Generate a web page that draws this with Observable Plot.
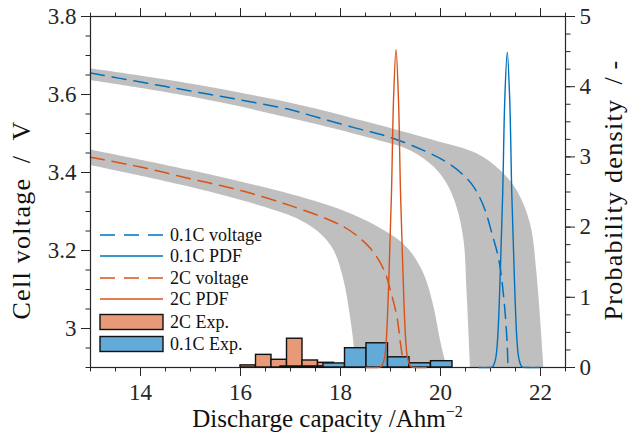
<!DOCTYPE html>
<html>
<head>
<meta charset="utf-8">
<script src="https://cdn.jsdelivr.net/npm/d3@7"></script>
<script src="https://cdn.jsdelivr.net/npm/@observablehq/plot@0.6"></script>
<style>
  body { margin: 0; background: #fff; }
  #wrap { position: relative; width: 630px; height: 437px; font-family: "Liberation Serif", serif; color: #000; }
  #wrap > svg { position: absolute; left: 0; top: 0; }
  .ttl { position: absolute; font-family: "Liberation Serif", serif; font-size: 25px; white-space: nowrap; line-height: 1; color: #111; }
  .ttl.y { font-size: 26px; letter-spacing: 1.3px; }
</style>
</head>
<body>
<div id="wrap"></div>
<script>
// ---------- tick labels ----------
const capMajor = [14, 16, 18, 20, 22];
const voltMajor = [3, 3.2, 3.4, 3.6, 3.8];
const densMajor = [0, 1, 2, 3, 4, 5];
const capMinor = d3.range(13, 22.51, 0.5);
const voltMinor = d3.range(2.9, 3.801, 0.05);
const densMinor = d3.range(0, 5.01, 0.25);

// ---------- 0.1C mean voltage curve ----------
const v01Cap  = [13, 14, 15, 16, 17, 17.33, 18.27, 19.0, 19.67, 20.13, 20.47, 20.67, 20.87, 21.03, 21.17, 21.27, 21.33, 21.35];
const v01Volt = [3.655, 3.632, 3.609, 3.586, 3.561, 3.549, 3.515, 3.49, 3.456, 3.426, 3.392, 3.362, 3.311, 3.243, 3.174, 3.072, 2.969, 2.90];
// 0.1C uncertainty band edges
const b01UpCap   = [13, 15, 17.2, 18.5, 19.87, 20.73, 21.2, 21.53, 21.8, 21.93, 22.07];
const b01UpVolt  = [3.666, 3.627, 3.572, 3.53, 3.482, 3.448, 3.405, 3.354, 3.268, 3.14, 2.9];
const b01LoCap   = [13, 15, 17.2, 18.53, 19.4, 19.87, 20.13, 20.33, 20.47, 20.53, 20.6];
const b01LoVolt  = [3.636, 3.594, 3.533, 3.49, 3.456, 3.414, 3.371, 3.311, 3.226, 3.097, 2.9];

// ---------- 2C mean voltage curve ----------
const v2Cap  = [13, 14, 15, 16, 17, 17.8, 18.2, 18.6, 18.87, 19.0, 19.13, 19.2, 19.27];
const v2Volt = [3.439, 3.414, 3.384, 3.354, 3.315, 3.277, 3.25, 3.205, 3.15, 3.097, 3.029, 2.961, 2.9];
// 2C uncertainty band edges
const b2UpCap  = [13, 15, 17.2, 18.2, 18.87, 19.33, 19.67, 19.87, 20.0, 20.13];
const b2UpVolt = [3.458, 3.405, 3.337, 3.294, 3.251, 3.208, 3.14, 3.055, 2.969, 2.9];
const b2LoCap  = [13, 15, 16.5, 17.2, 17.6, 17.87, 18.07, 18.2, 18.27, 18.3];
const b2LoVolt = [3.418, 3.362, 3.31, 3.277, 3.243, 3.2, 3.123, 3.029, 2.96, 2.9];

// ---------- probability density functions ----------
const pdf01Cap  = [20.77, 20.95, 21.04, 21.10, 21.14, 21.195, 21.245, 21.285, 21.335, 21.385, 21.425, 21.475, 21.53, 21.57, 21.63, 21.75, 21.97];
const pdf01Dens = [0, 0, 0.01, 0.12, 0.38, 1.33, 2.5, 3.8, 4.49, 3.8, 2.5, 1.33, 0.38, 0.12, 0.01, 0, 0];
const pdf2Cap   = [18.51, 18.71, 18.81, 18.875, 18.915, 18.97, 19.02, 19.06, 19.11, 19.16, 19.20, 19.25, 19.305, 19.345, 19.41, 19.51, 19.71];
const pdf2Dens  = [0, 0, 0.01, 0.12, 0.38, 1.33, 2.5, 3.8, 4.53, 3.8, 2.5, 1.33, 0.38, 0.12, 0.01, 0, 0];

// ---------- experimental histograms ----------
const exp2Edges = [16.0, 16.31, 16.62, 16.93, 17.24, 17.55, 17.87];
const exp2Dens  = [0.03, 0.18, 0.11, 0.41, 0.10, 0.067];
const exp01Edges = [16.8, 17.23, 17.66, 18.09, 18.52, 18.95, 19.38, 19.81, 20.24];
const exp01Dens  = [0.015, 0.015, 0.058, 0.275, 0.345, 0.145, 0.06, 0.09];

// ---------- legend ----------
const legendLabels = ["0.1C voltage", "0.1C PDF", "2C voltage", "2C PDF", "2C Exp.", "0.1C Exp."];

// ---------- colours ----------
const blue = "#0072BD", orange = "#D95319";
const blueFill = "#64AAD8", orangeFill = "#E89977";
const bandGray = "#BFBFBF", axisCol = "#262626";

// ---------- build tables ----------
const zip2 = (a, b, ka, kb) => a.map((v, i) => ({[ka]: v, [kb]: b[i]}));
const curve01 = zip2(v01Cap, v01Volt, "cap", "v");
const curve2 = zip2(v2Cap, v2Volt, "cap", "v");
const band01 = b01UpCap.map((c, i) => ({xu: c, vu: b01UpVolt[i], xl: b01LoCap[i], vl: b01LoVolt[i]}));
const band2 = b2UpCap.map((c, i) => ({xu: c, vu: b2UpVolt[i], xl: b2LoCap[i], vl: b2LoVolt[i]}));
const pdf01 = zip2(pdf01Cap, pdf01Dens, "cap", "d");
const pdf2 = zip2(pdf2Cap, pdf2Dens, "cap", "d");
const hist2 = exp2Dens.map((d, i) => ({x1: exp2Edges[i], x2: exp2Edges[i + 1], d}));
const hist01 = exp01Dens.map((d, i) => ({x1: exp01Edges[i], x2: exp01Edges[i + 1], d}));

const W = 630, H = 437;
const dims = {width: W, height: H, marginLeft: 90, marginRight: 65, marginTop: 16, marginBottom: 70};
const style = {fontFamily: "Liberation Serif, serif", fontSize: "23px", background: "transparent", color: axisCol, overflow: "visible"};
const blank = () => "";
const fmt = d => String(d);
const dash = "14,8";

// Layer 1: voltage (left axis, bottom/top capacity axis)
const pV = Plot.plot({
  ...dims, style,
  x: {domain: [13, 22.5]},
  y: {domain: [2.9, 3.8]},
  marks: [
    Plot.area(band01, {x1: "xu", y1: "vu", x2: "xl", y2: "vl", fill: bandGray, curve: "catmull-rom"}),
    Plot.area(band2, {x1: "xu", y1: "vu", x2: "xl", y2: "vl", fill: bandGray, curve: "catmull-rom"}),
    Plot.line(curve01, {x: "cap", y: "v", stroke: blue, strokeWidth: 1.5, strokeDasharray: dash, curve: "catmull-rom"}),
    Plot.line(curve2, {x: "cap", y: "v", stroke: orange, strokeWidth: 1.5, strokeDasharray: dash, curve: "catmull-rom"}),
    Plot.axisX({anchor: "bottom", ticks: capMajor, tickSize: 9, tickPadding: 7, tickFormat: fmt, label: null, stroke: axisCol}),
    Plot.axisX({anchor: "bottom", ticks: capMinor, tickSize: 4.5, tickFormat: blank, label: null, stroke: axisCol}),
    Plot.axisX({anchor: "top", ticks: capMajor, tickSize: 9, tickFormat: blank, label: null, stroke: axisCol}),
    Plot.axisX({anchor: "top", ticks: capMinor, tickSize: 4.5, tickFormat: blank, label: null, stroke: axisCol}),
    Plot.axisY({anchor: "left", ticks: voltMajor, tickSize: 9, tickPadding: 5, tickFormat: fmt, label: null, stroke: axisCol}),
    Plot.axisY({anchor: "left", ticks: voltMinor, tickSize: 4.5, tickFormat: blank, label: null, stroke: axisCol}),
    Plot.frame({stroke: axisCol, strokeWidth: 1.2})
  ]
});

// Layer 2: probability density (right axis)
const pD = Plot.plot({
  ...dims, style,
  x: {domain: [13, 22.5], axis: null},
  y: {domain: [0, 5]},
  marks: [
    Plot.rect(hist2, {x1: "x1", x2: "x2", y1: 0, y2: "d", fill: orangeFill, stroke: "#111", strokeWidth: 1.4}),
    Plot.rect(hist01, {x1: "x1", x2: "x2", y1: 0, y2: "d", fill: blueFill, stroke: "#111", strokeWidth: 1.4}),
    Plot.line(pdf2, {x: "cap", y: "d", stroke: orange, strokeWidth: 1.4, curve: "catmull-rom"}),
    Plot.line(pdf01, {x: "cap", y: "d", stroke: blue, strokeWidth: 1.4, curve: "catmull-rom"}),
    Plot.axisY({anchor: "right", ticks: densMajor, tickSize: 9, tickPadding: 5, tickFormat: fmt, label: null, stroke: axisCol}),
    Plot.axisY({anchor: "right", ticks: densMinor, tickSize: 4.5, tickFormat: blank, label: null, stroke: axisCol})
  ]
});

const wrap = document.getElementById("wrap");
wrap.appendChild(pV);
wrap.appendChild(pD);

// Legend layer
const leg = d3.select(wrap).append("svg")
  .attr("width", W).attr("height", H)
  .style("font-family", "Liberation Serif, serif").style("font-size", "18px");
const legY = [235, 256, 278, 299, 322, 344];
const legKind = [
  {stroke: blue, dash: "15,9"}, {stroke: blue, dash: null},
  {stroke: orange, dash: "15,9"}, {stroke: orange, dash: null},
  {fill: orangeFill}, {fill: blueFill}
];
legendLabels.forEach((lab, i) => {
  const k = legKind[i], y = legY[i];
  if (k.fill) {
    leg.append("rect").attr("x", 100).attr("y", y - 7.5).attr("width", 63).attr("height", 15)
      .attr("fill", k.fill).attr("stroke", "#111").attr("stroke-width", 1.4);
  } else {
    leg.append("line").attr("x1", 100).attr("x2", 163).attr("y1", y).attr("y2", y)
      .attr("stroke", k.stroke).attr("stroke-width", 1.5).attr("stroke-dasharray", k.dash);
  }
  leg.append("text").attr("x", 170).attr("y", y).attr("dy", "0.35em").attr("fill", "#111").text(lab);
});

// Axis titles
const xt = document.createElement("div");
xt.className = "ttl";
xt.innerHTML = "Discharge capacity /Ahm<sup style='font-size:16px;vertical-align:10px'>−2</sup>";
wrap.appendChild(xt);
const xw = xt.getBoundingClientRect().width;
xt.style.left = (327.5 - xw / 2) + "px";
xt.style.top = "404px";

const yl = document.createElement("div");
yl.className = "ttl y";
yl.innerHTML = "Cell voltage&ensp;/&ensp;V";
wrap.appendChild(yl);
const ylw = yl.getBoundingClientRect().width, ylh = yl.getBoundingClientRect().height;
yl.style.left = (22 - ylw / 2) + "px";
yl.style.top = (220 - ylh / 2) + "px";
yl.style.transform = "rotate(-90deg)";

const yr = document.createElement("div");
yr.className = "ttl y";
yr.innerHTML = "Probability density&ensp;/&thinsp;-";
wrap.appendChild(yr);
const yrw = yr.getBoundingClientRect().width, yrh = yr.getBoundingClientRect().height;
yr.style.left = (614 - yrw / 2) + "px";
yr.style.top = (190 - yrh / 2) + "px";
yr.style.transform = "rotate(-90deg)";
</script>
</body>
</html>
